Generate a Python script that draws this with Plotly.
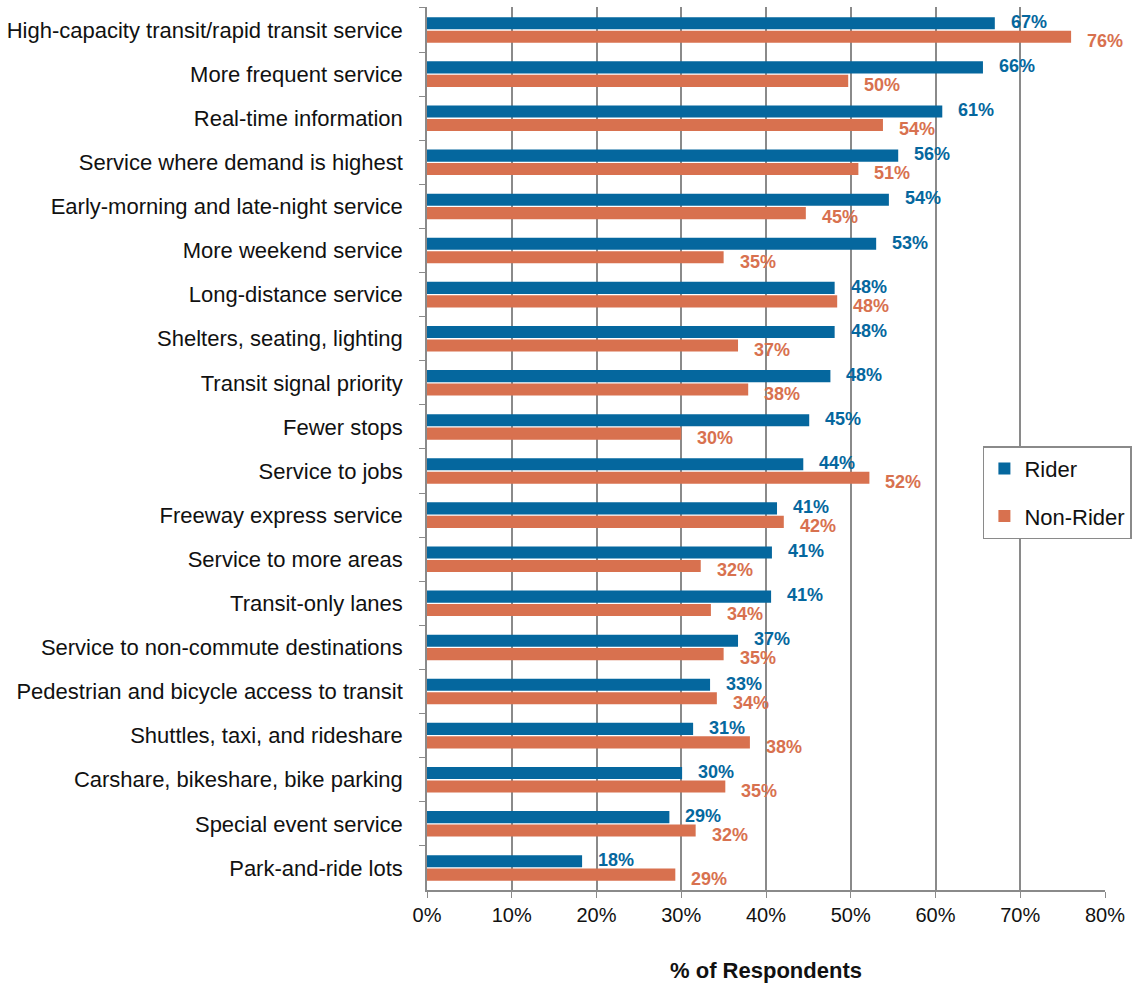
import plotly.graph_objects as go

categories = [
    "High-capacity transit/rapid transit service",
    "More frequent service",
    "Real-time information",
    "Service where demand is highest",
    "Early-morning and late-night service",
    "More weekend service",
    "Long-distance service",
    "Shelters, seating, lighting",
    "Transit signal priority",
    "Fewer stops",
    "Service to jobs",
    "Freeway express service",
    "Service to more areas",
    "Transit-only lanes",
    "Service to non-commute destinations",
    "Pedestrian and bicycle access to transit",
    "Shuttles, taxi, and rideshare",
    "Carshare, bikeshare, bike parking",
    "Special event service",
    "Park-and-ride lots",
]
rider = [67.0, 65.6, 60.8, 55.6, 54.5, 53.0, 48.1, 48.1, 47.6, 45.1,
         44.4, 41.3, 40.7, 40.6, 36.7, 33.4, 31.4, 30.1, 28.6, 18.3]
non_rider = [76.0, 49.7, 53.8, 50.9, 44.7, 35.0, 48.4, 36.7, 37.9, 30.0,
             52.2, 42.1, 32.3, 33.5, 35.0, 34.2, 38.1, 35.2, 31.7, 29.3]
x_ticks = [0, 10, 20, 30, 40, 50, 60, 70, 80]
x_ticklabels = [f"{v}%" for v in x_ticks]

BLUE = "#05679E"
ORANGE = "#D8714F"
FONT = "Liberation Sans, Arial, sans-serif"
GRID = "#8a8a8a"

fig = go.Figure()
fig.add_trace(go.Bar(y=categories, x=rider, orientation="h", name="Rider",
                     marker=dict(color=BLUE, line=dict(width=0)), legendgroup="r"))
fig.add_trace(go.Bar(y=categories, x=non_rider, orientation="h", name="Non-Rider",
                     marker=dict(color=ORANGE, line=dict(width=0)), legendgroup="n"))

annotations = []
for cat, v in zip(categories, rider):
    annotations.append(dict(x=v, y=cat, xref="x", yref="y", text=f"{round(v)}%",
                            showarrow=False, xanchor="left", yanchor="middle",
                            xshift=14, yshift=8,
                            font=dict(family=FONT, size=18, color=BLUE, weight="bold")))
for cat, v in zip(categories, non_rider):
    annotations.append(dict(x=v, y=cat, xref="x", yref="y", text=f"{round(v)}%",
                            showarrow=False, xanchor="left", yanchor="middle",
                            xshift=14, yshift=-11,
                            font=dict(family=FONT, size=18, color=ORANGE, weight="bold")))

fig.update_layout(
    width=1135, height=985,
    margin=dict(l=427, r=30, t=7, b=95, autoexpand=False),
    paper_bgcolor="white", plot_bgcolor="white",
    barmode="group", bargap=0.39, bargroupgap=0.1,
    font=dict(family=FONT, size=20, color="#111"),
    annotations=annotations,
    showlegend=True,
    legend=dict(xref="container", yref="container", x=0.866, y=0.547,
                xanchor="left", yanchor="top",
                bgcolor="white", bordercolor=GRID, borderwidth=1.5,
                font=dict(family=FONT, size=22, color="#111"),
                traceorder="grouped", tracegroupgap=16,
                itemwidth=30),
    xaxis=dict(range=[0, 80], tickvals=x_ticks, ticktext=x_ticklabels,
               showgrid=True, gridcolor=GRID, gridwidth=1.5,
               showline=True, linecolor=GRID, linewidth=1.5,
               ticks="outside", ticklen=6, tickcolor=GRID,
               zeroline=False, automargin=False,
               tickfont=dict(family=FONT, size=20, color="#111"),
               title=dict(text="% of Respondents", standoff=38,
                          font=dict(family=FONT, size=22, color="#111", weight="bold"))),
    yaxis=dict(autorange="reversed", type="category",
               showline=True, linecolor=GRID, linewidth=1.5,
               ticks="outside", ticklen=6, tickcolor=GRID, tickson="boundaries",
               showgrid=False, ticklabelstandoff=18, automargin=False,
               tickfont=dict(family=FONT, size=22, color="#111")),
)

fig.write_html("out.html", config={"displayModeBar": False},
               post_script="document.body.style.margin='0px';")
